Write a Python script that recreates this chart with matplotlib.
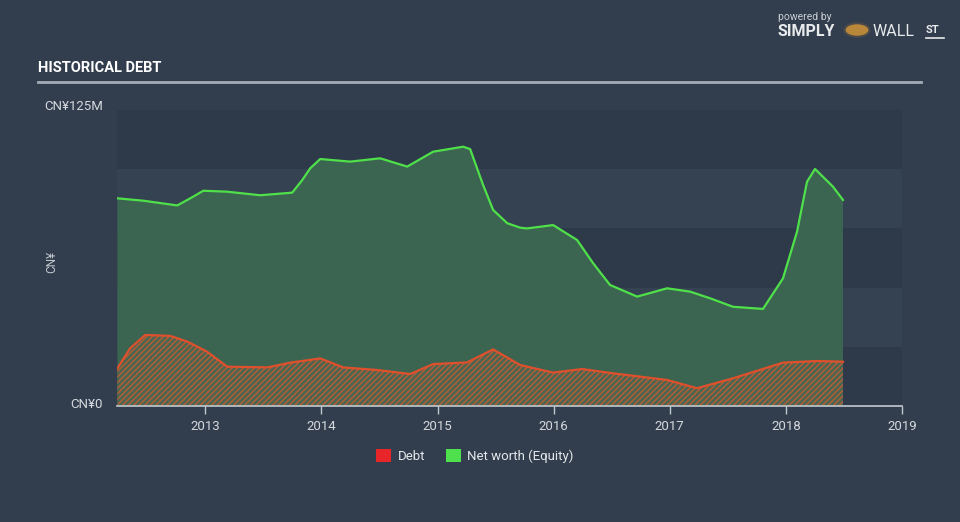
import matplotlib
matplotlib.use("Agg")
import matplotlib.pyplot as plt
from matplotlib.patches import Patch, Circle
from matplotlib import font_manager

# ---------------- data (decimal years, CN¥ millions) ----------------
equity_t = [2012.243, 2012.466, 2012.759, 2012.871, 2012.983, 2013.189, 2013.473,
            2013.749, 2013.835, 2013.904, 2013.990, 2014.248, 2014.506, 2014.739,
            2014.963, 2015.221, 2015.281, 2015.393, 2015.479, 2015.600, 2015.712,
            2015.772, 2015.996, 2016.202, 2016.340, 2016.486, 2016.719, 2016.977,
            2017.175, 2017.347, 2017.545, 2017.803, 2017.975, 2018.096, 2018.182,
            2018.251, 2018.406, 2018.492]
equity_v = [87.7, 86.7, 84.7, 87.7, 90.9, 90.5, 89.0,
            90.1, 95.4, 100.4, 104.3, 103.2, 104.6, 101.1,
            107.4, 109.5, 108.5, 93.3, 82.8, 77.2, 75.3,
            75.0, 76.4, 70.1, 60.3, 51.1, 46.2, 49.7,
            48.3, 45.5, 41.9, 41.0, 53.9, 73.6, 94.7,
            100.1, 92.6, 87.0]

debt_t = [2012.243, 2012.354, 2012.483, 2012.699, 2012.845, 2013.017, 2013.189,
          2013.534, 2013.732, 2013.990, 2014.188, 2014.481, 2014.765, 2014.963,
          2015.255, 2015.479, 2015.712, 2015.996, 2016.245, 2016.512, 2016.977,
          2017.235, 2017.545, 2017.975, 2018.268, 2018.492]
debt_v = [15.9, 24.4, 30.0, 29.6, 27.2, 22.9, 16.6,
          16.3, 18.3, 20.1, 16.3, 15.2, 13.5, 17.7,
          18.4, 23.9, 17.3, 14.1, 15.6, 13.8, 11.0,
          7.5, 11.7, 18.3, 19.0, 18.7]

year_ticks = [2013, 2014, 2015, 2016, 2017, 2018, 2019]
year_labels = ["2013", "2014", "2015", "2016", "2017", "2018", "2019"]
y_max = 125
y_top_label = "CN¥125M"
y_bottom_label = "CN¥0"
series_names = ["Debt", "Net worth (Equity)"]

# ---------------- fonts ----------------
available = {f.name for f in font_manager.fontManager.ttflist}
narrow = "Liberation Sans Narrow" if "Liberation Sans Narrow" in available else "Roboto"
plt.rcParams["font.family"] = [narrow, "DejaVu Sans"]
plt.rcParams["hatch.linewidth"] = 1.0

BG = "#323e4d"
fig = plt.figure(figsize=(9.6, 5.22), dpi=100, facecolor=BG)

ax = fig.add_axes([117 / 960, 1 - 406 / 522, (902 - 117) / 960, (406 - 110) / 522])
ax.set_facecolor("none")
ax.set_xlim(2012.24, 2019.0)
ax.set_ylim(0, y_max)

# banded background
band_cols = ["#2e3a4a", "#344251"]
for i in range(5):
    ax.axhspan(i * 25, (i + 1) * 25, color=band_cols[i % 2], lw=0, zorder=0)

# equity area
ax.fill_between(equity_t, equity_v, 0, facecolor="#3b6551", lw=0, zorder=1)
ax.plot(equity_t, equity_v, color="#4fe04a", lw=1.6, zorder=4,
        solid_joinstyle="round")

# debt area (hatched)
ax.fill_between(debt_t, debt_v, 0, facecolor="#4a6650", edgecolor="#b85d36",
                hatch="//////", lw=0, zorder=2)
ax.plot(debt_t, debt_v, color="#e0502c", lw=1.6, zorder=5, solid_joinstyle="round")

# axes styling
for s in ["top", "right", "left"]:
    ax.spines[s].set_visible(False)
ax.spines["bottom"].set_color("#c3c9cf")
ax.spines["bottom"].set_linewidth(1.2)
ax.set_xticks(year_ticks)
ax.set_xticklabels(year_labels)
ax.tick_params(axis="x", colors="#c3c9cf", length=6, width=1, labelsize=9.5,
               labelcolor="#d5d9de", pad=4)
ax.set_yticks([])

# y labels
fig.text(103 / 960, 1 - 107 / 522, y_top_label, ha="right", va="center",
         color="#d5d9de", fontsize=9.5)
fig.text(103 / 960, 1 - 404 / 522, y_bottom_label, ha="right", va="center",
         color="#d5d9de", fontsize=9.5)
fig.text(52 / 960, 1 - 262 / 522, "CN¥", ha="center", va="center", rotation=90,
         color="#c3c9cf", fontsize=8.5)

# title and rule
fig.text(38 / 960, 1 - 68 / 522, "HISTORICAL DEBT", ha="left", va="center",
         color="white", fontsize=10.5, fontweight="bold")
fig.add_artist(plt.Line2D([38 / 960, 921 / 960], [1 - 82 / 522, 1 - 82 / 522],
                          color="#a4acb5", lw=2))

# logo
fig.text(778 / 960, 1 - 17 / 522, "powered by", ha="left", va="center",
         color="#c9ced4", fontsize=7.5, family=["Roboto", "DejaVu Sans"])
fig.text(777 / 960, 1 - 32 / 522, "SIMPLY", ha="left", va="center",
         color="#e8eaec", fontsize=11.5, fontweight="bold", family=["Roboto", "DejaVu Sans"])
fig.add_artist(Circle((857 / 960, 1 - 30 / 522), 0.013, transform=fig.transFigure,
                      facecolor="#b8873a", edgecolor="#4a4a4a", lw=1.5))
fig.text(873 / 960, 1 - 32 / 522, "WALL", ha="left", va="center",
         color="#e8eaec", fontsize=11.5, family=["Roboto", "DejaVu Sans"])
fig.text(926 / 960, 1 - 30 / 522, "ST", ha="left", va="center",
         color="#e8eaec", fontsize=8, fontweight="bold", family=["Roboto", "DejaVu Sans"])
fig.add_artist(plt.Line2D([926 / 960, 944 / 960], [1 - 38 / 522, 1 - 38 / 522],
                          color="#e8eaec", lw=1.2))

# legend
handles = [Patch(facecolor="#e8262a", edgecolor="none"),
           Patch(facecolor="#4fe04e", edgecolor="none")]
leg = fig.legend(handles, series_names, loc="center", ncol=2,
                 bbox_to_anchor=(475 / 960, 1 - 456 / 522), frameon=False,
                 handlelength=1.1, handleheight=1.1, handletextpad=0.5,
                 columnspacing=1.6, fontsize=9.5)
for t in leg.get_texts():
    t.set_color("#e4e7ea")

fig.savefig("out.png", dpi=100, facecolor=BG)
